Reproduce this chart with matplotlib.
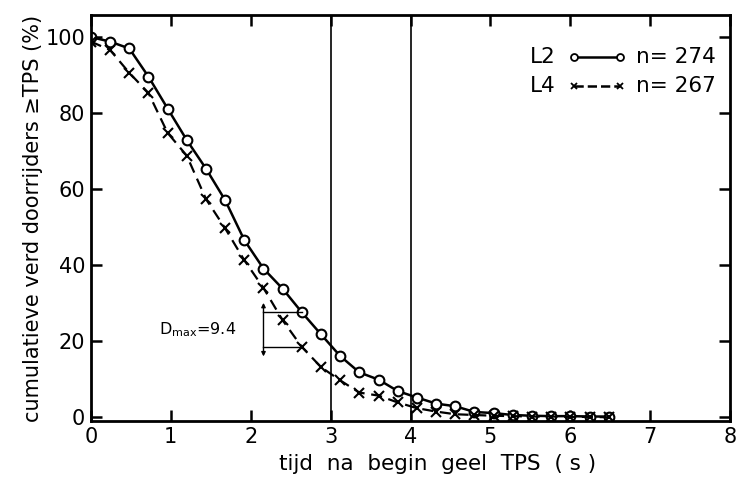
import matplotlib
matplotlib.use('Agg')
import matplotlib.pyplot as plt
import numpy as np

# time after start of amber (s), sampled every 0.24 s
tijd = np.round(np.arange(28) * 0.24, 2)

# L2 (n = 274), cumulative % of drivers passing >= TPS
l2 = [100, 98.8, 97.0, 89.6, 81.2, 72.9, 65.4, 57.1, 46.6, 39.1, 33.8, 27.6,
      21.8, 16.1, 11.8, 9.9, 6.9, 5.2, 3.6, 2.9, 1.4, 1.1, 0.6, 0.4, 0.3, 0.3,
      0.2, 0.2]

# L4 (n = 267)
l4 = [98.8, 96.6, 90.6, 85.3, 74.8, 68.8, 57.4, 49.7, 41.3, 34.0, 25.5, 18.5,
      13.2, 9.7, 6.5, 5.7, 3.9, 2.4, 1.5, 0.8, 0.6, 0.4, 0.3, 0.2, 0.2, 0.1,
      0.1, 0.0]

x_ticks = [0, 1, 2, 3, 4, 5, 6, 7, 8]
y_ticks = [0, 20, 40, 60, 80, 100]
v_lines = [3, 4]
dmax_x = 2.16
dmax_idx = 11

fig = plt.figure(figsize=(7.39, 4.84), dpi=100)
ax = fig.add_axes([0.123, 0.130, 0.865, 0.839])

ax.plot(tijd, l2, '-', color='black', lw=1.8, marker='o', ms=7,
        mfc='white', mec='black', mew=1.5)
ax.plot(tijd, l4, '--', color='black', lw=1.6, dashes=(5, 3), marker='x',
        ms=7, mew=1.5)

for v in v_lines:
    ax.axvline(v, color='black', lw=1.2)

# Dmax bracket
y_hi = l2[dmax_idx]
y_lo = l4[dmax_idx]
ax.plot([dmax_x, tijd[dmax_idx]], [y_hi, y_hi], color='black', lw=1.0)
ax.plot([dmax_x, tijd[dmax_idx]], [y_lo, y_lo], color='black', lw=1.0)
ax.annotate('', xy=(dmax_x, y_hi + 2.5), xytext=(dmax_x, y_lo - 2.5),
            arrowprops=dict(arrowstyle='<|-|>', color='black', lw=1.0,
                            mutation_scale=6, shrinkA=0, shrinkB=0))
ax.text(1.82, 23.0, r'D$_{\mathrm{max}}$=9.4', fontsize=11.5, ha='right',
        va='center')

# legend drawn by hand
tr = ax.transAxes
for yy, lab, n, ls, mk in [(0.897, 'L2', 'n= 274', '-', 'o'),
                           (0.825, 'L4', 'n= 267', '--', 'x')]:
    ax.text(0.687, yy, lab, transform=tr, fontsize=15.5, va='center')
    ax.plot([0.755, 0.828], [yy, yy], transform=tr, color='black', lw=1.8,
            ls=ls, marker=mk, ms=5, mfc='white', mec='black', mew=1.3,
            clip_on=False)
    ax.text(0.852, yy, n, transform=tr, fontsize=15.5, va='center')

ax.set_xlim(0, 8)
ax.set_ylim(-1.0, 105.8)
ax.set_xticks(x_ticks)
ax.set_yticks(y_ticks)
ax.tick_params(direction='in', length=8, width=1.8, labelsize=15,
               top=True, right=True, pad=4)
for s in ax.spines.values():
    s.set_linewidth(2)

ax.set_xlabel('tijd  na  begin  geel  TPS  ( s )', fontsize=15.5)
ax.xaxis.set_label_coords(0.543, -0.08)
ax.set_ylabel('cumulatieve verd doorrijders \u2265TPS (%)', fontsize=15,
              labelpad=2)

fig.savefig('out.png', dpi=100)
